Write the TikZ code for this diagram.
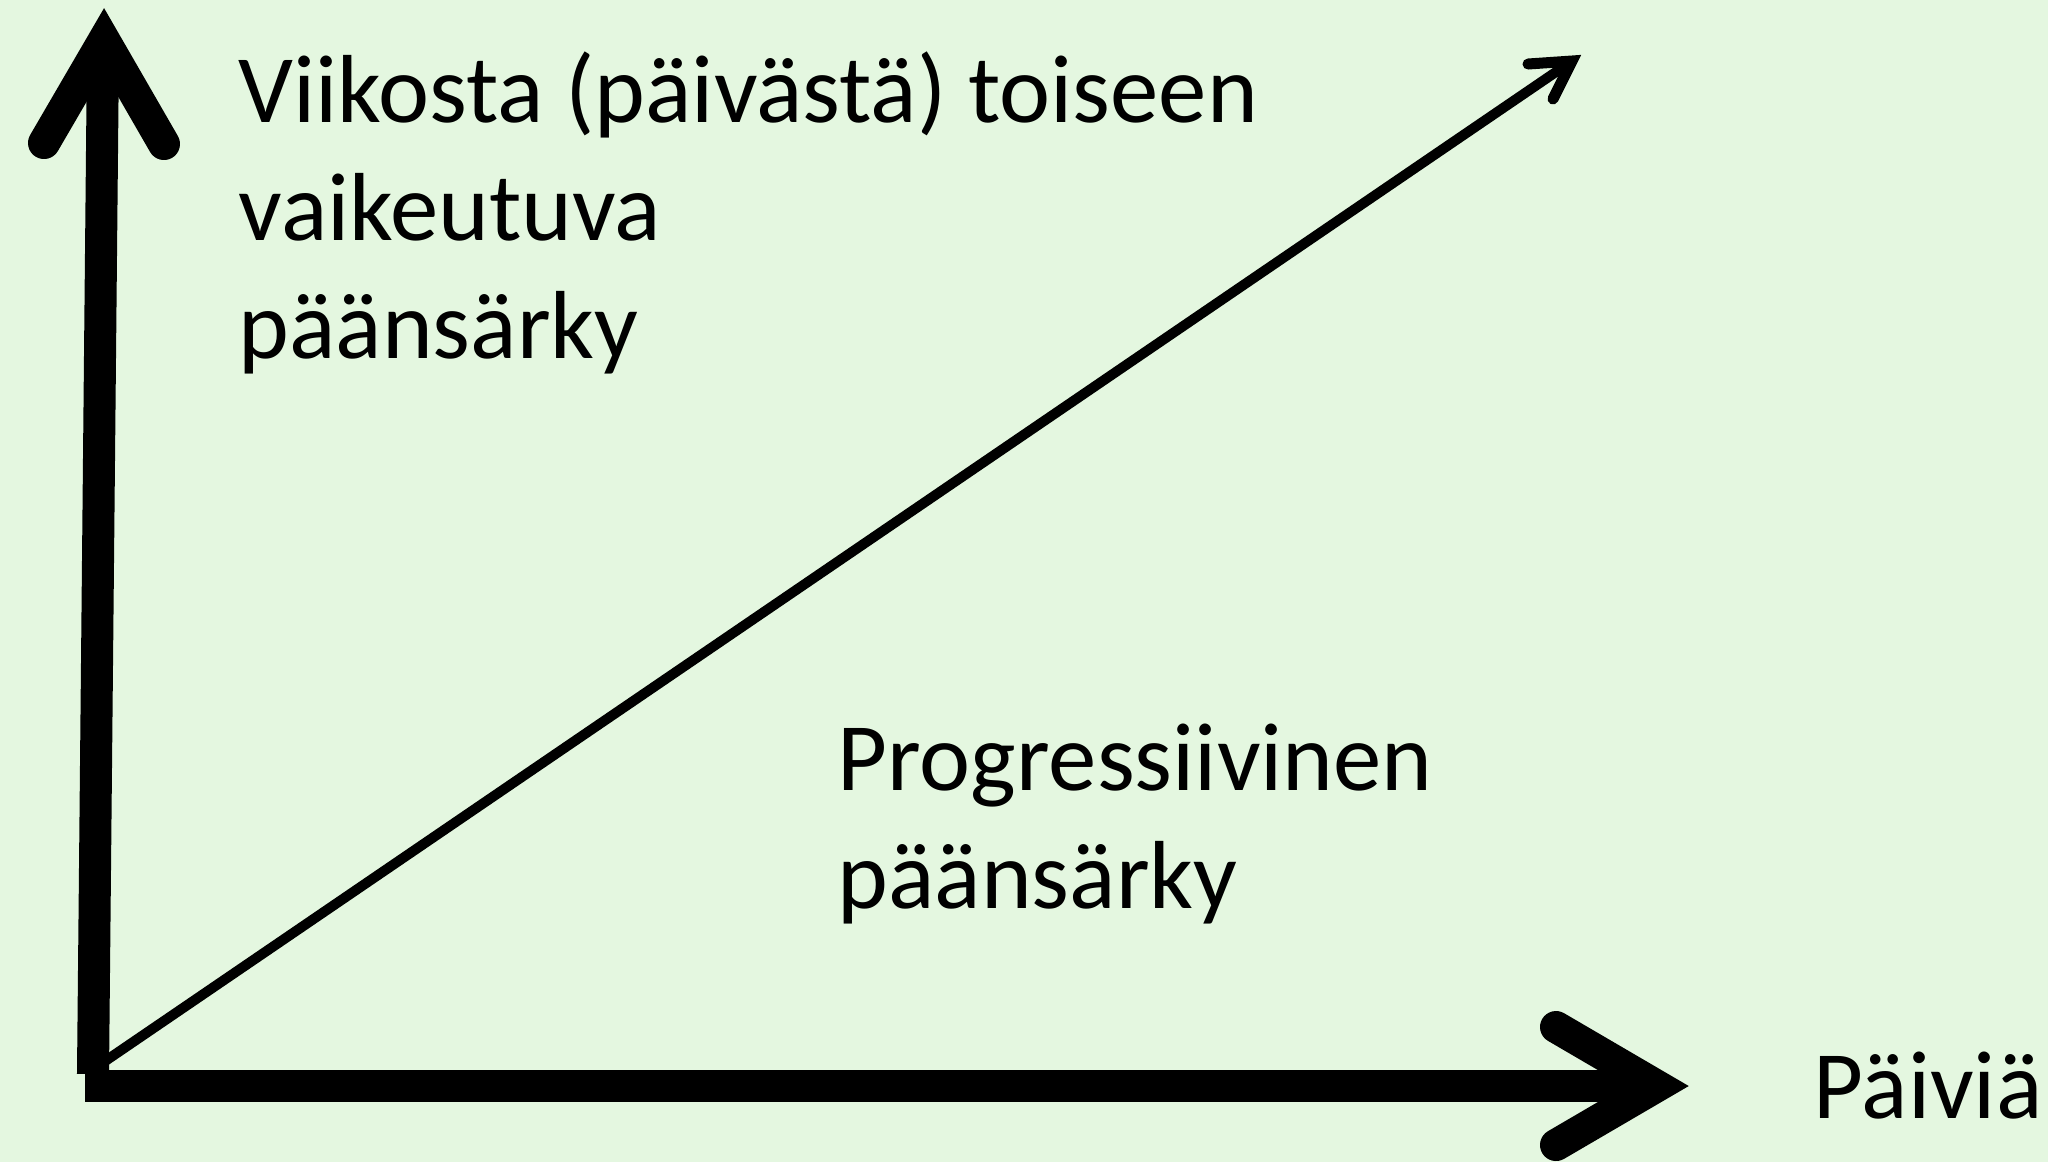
\documentclass[tikz,border=0pt]{standalone}
\usepackage{fontspec}
\setmainfont{Carlito}
\definecolor{slidebg}{RGB}{228,247,224}

\begin{document}
\begin{tikzpicture}[
        x=0.01cm, y=-0.01cm,
        axis/.style={line width=0.32cm},
        axishead/.style={line width=0.32cm, line cap=round, line join=miter},
        trend/.style={line width=0.1cm},
        trendhead/.style={line width=0.11cm, line cap=round, line join=miter},
        lbl/.style={font=\fontsize{27.5}{33.5}\selectfont, align=left, inner sep=0pt, anchor=base west}
    ]
        \fill[slidebg] (0,0) rectangle (2048,1162);
        \useasboundingbox (0,0) rectangle (2048,1162);

        \coordinate (ybot) at (93,1074);
        \coordinate (ytop) at (103,50);
        \coordinate (yhead) at (104,40);
        \coordinate (xbot) at (85,1086);
        \coordinate (xtop) at (1650,1086);
        \coordinate (xhead) at (1657,1086);
        \coordinate (dbot) at (95,1068);
        \coordinate (dhead) at (1572,61);

        % base = last line
        \node[lbl] (weekly) at (238,358) {Viikosta (päivästä) toiseen\\vaikeutuva\\päänsärky};
        \node[lbl] (progressive) at (837,908) {Progressiivinen\\päänsärky};
        \node[lbl] (days) at (1813,1118) {Päiviä};

        \draw[axis] (ybot) -- (ytop);
        \draw[axishead] ([shift={(-60,103)}]yhead) -- (yhead) -- ([shift={(60,104)}]yhead);
        \draw[axis] (xbot) -- (xtop);
        \draw[axishead] ([shift={(-101,-59)}]xhead) -- (xhead) -- ([shift={(-101,59)}]xhead);
        \draw[trend] (dbot) -- (dhead);
        \draw[trendhead] ([shift={(-44,3)}]dhead) -- (dhead) -- ([shift={(-19,38)}]dhead);
    \end{tikzpicture}
\end{document}
